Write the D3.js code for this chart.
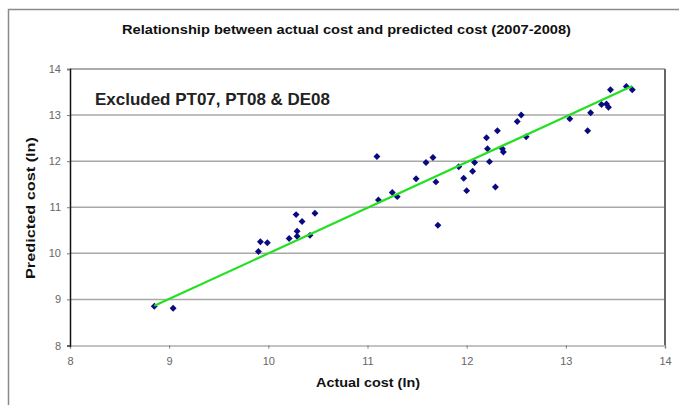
<!DOCTYPE html>
<html><head><meta charset="utf-8">
<script src="https://cdn.jsdelivr.net/npm/d3@7"></script>
<style>body{margin:0;background:#fff}svg{display:block}text{font-family:"Liberation Sans",Arial,sans-serif}</style>
</head><body>
<svg id="c" width="679" height="405"></svg>
<script>
const actualCost = [8.85,9.04,9.90,9.92,9.99,10.21,10.28,10.29,10.29,10.34,10.42,10.47,
  11.095,11.11,11.25,11.30,11.49,11.59,11.66,11.69,11.71,11.92,11.97,12.00,12.06,12.08,
  12.23,12.21,12.20,12.29,12.31,12.36,12.37,12.51,12.55,12.60,13.04,13.22,13.25,13.36,
  13.41,13.43,13.45,13.61,13.67];
const predictedCost = [8.85,8.81,10.04,10.25,10.23,10.32,10.84,10.48,10.37,10.69,10.39,10.87,
  12.10,11.16,11.32,11.23,11.62,11.97,12.08,11.55,10.61,11.88,11.63,11.36,11.78,11.97,
  11.99,12.27,12.51,11.44,12.66,12.27,12.20,12.86,13.00,12.53,12.92,12.66,13.05,13.23,
  13.24,13.17,13.55,13.62,13.55];
const trendX = [8.85, 13.67];
const trendY = [8.86, 13.63];
const xTicks = [8,9,10,11,12,13,14];
const yTicks = [8,9,10,11,12,13,14];
const titleText = "Relationship between actual cost and predicted cost (2007-2008)";
const noteText = "Excluded PT07, PT08 & DE08";
const xTitle = "Actual cost (ln)";
const yTitle = "Predicted cost (ln)";

const svg = d3.select("#c");
const L=70, R=665, T=69, B=345.5;
const x = d3.scaleLinear().domain([8,14]).range([L,R]);
const y = d3.scaleLinear().domain([8,14]).range([B,T]);

// outer chart border
svg.append("path").attr("d","M8.5,410 L8.5,9.5 L690,9.5").attr("fill","none").attr("stroke","#8a8a8a").attr("stroke-width",1.5);

svg.append("text").attr("x",122).attr("y",34)
  .attr("font-size",13.5).attr("font-weight","bold").attr("fill","#111")
  .attr("textLength",449).attr("lengthAdjust","spacingAndGlyphs").text(titleText);

// gridlines
svg.append("g").selectAll("line").data(yTicks.filter(d=>d>8&&d<14)).join("line")
  .attr("x1",L).attr("x2",R).attr("y1",d=>y(d)).attr("y2",d=>y(d))
  .attr("stroke","#a8a8a8").attr("stroke-width",1.5);
// top frame
svg.append("line").attr("x1",L).attr("x2",R).attr("y1",T).attr("y2",T).attr("stroke","#909090").attr("stroke-width",1.5);
// right frame
svg.append("line").attr("x1",R).attr("x2",R).attr("y1",T).attr("y2",B).attr("stroke","#666").attr("stroke-width",2);

// axes
const xAxis = d3.axisBottom(x).tickValues(xTicks).tickSize(3).tickPadding(9).tickFormat(d3.format("d"));
const gx = svg.append("g").attr("transform",`translate(0,${B})`).call(xAxis);
gx.select(".domain").attr("stroke","#b0b0b0").attr("stroke-width",1.5);
gx.selectAll(".tick line").attr("stroke","#777");
gx.selectAll("text").attr("font-size",11).attr("fill","#666").attr("font-family","'Liberation Sans',Arial,sans-serif");

const yAxis = d3.axisLeft(y).tickValues(yTicks).tickSize(3).tickPadding(6).tickFormat(d3.format("d"));
const gy = svg.append("g").attr("transform",`translate(${L},0)`).call(yAxis);
gy.select(".domain").attr("stroke","#111").attr("stroke-width",1.5);
gy.selectAll(".tick line").attr("stroke","#777");
gy.selectAll("text").attr("font-size",11).attr("fill","#666").attr("font-family","'Liberation Sans',Arial,sans-serif");

// note
svg.append("text").attr("x",95).attr("y",105).attr("font-size",16.5).attr("font-weight","bold").attr("fill","#222")
  .attr("textLength",235).attr("lengthAdjust","spacingAndGlyphs").text(noteText);

// points
const pts = actualCost.map((d,i)=>[d,predictedCost[i]]);
svg.append("g").selectAll("path").data(pts).join("path")
  .attr("d",d3.symbol(d3.symbolSquare,24))
  .attr("transform",d=>`translate(${x(d[0])},${y(d[1])}) rotate(45)`)
  .attr("fill","#0a0a80");

// trend line
svg.append("path").datum(trendX.map((d,i)=>[d,trendY[i]]))
  .attr("d",d3.line().x(d=>x(d[0])).y(d=>y(d[1])))
  .attr("stroke","#22e022").attr("stroke-width",2.2).attr("fill","none");

// axis titles
svg.append("text").attr("x",368).attr("y",387).attr("text-anchor","middle")
  .attr("font-size",13.5).attr("font-weight","bold").attr("fill","#111")
  .attr("textLength",104).attr("lengthAdjust","spacingAndGlyphs").text(xTitle);
svg.append("text").attr("transform","translate(35,208) rotate(-90)").attr("text-anchor","middle")
  .attr("font-size",13.5).attr("font-weight","bold").attr("fill","#111")
  .attr("textLength",142).attr("lengthAdjust","spacingAndGlyphs").text(yTitle);
</script>
</body></html>
